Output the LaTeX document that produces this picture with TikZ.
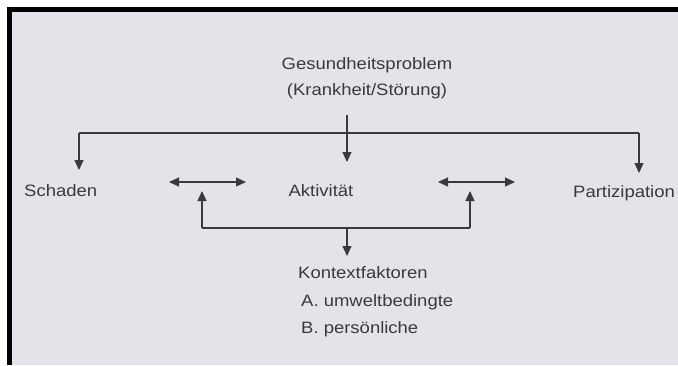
\documentclass[tikz,border=0pt]{standalone}
\usepackage{fontspec}
\setmainfont{Liberation Sans}[FakeStretch=1.12]
\usetikzlibrary{arrows.meta}
\definecolor{paper}{HTML}{E4E3E9}
\definecolor{ink}{HTML}{3A3A3E}

\begin{document}
\begin{tikzpicture}[x=1pt,y=-1pt,>={Triangle[length=10pt,width=9pt]},
  txt/.style={text=ink,font=\fontsize{16.5}{20}\selectfont,inner sep=0pt,anchor=base},
  txtleft/.style={txt,anchor=base west},
  link/.style={draw=ink,line width=1.1pt}]
  \useasboundingbox (0,0) rectangle (678,365);
  \fill[white] (0,0) rectangle (678,365);
  \fill[black] (7,7) rectangle (678,365);
  \fill[paper] (12,12) rectangle (678,365);

  % Texts
  \node[txt] (problem) at (367,69) {Gesundheitsproblem};
  \node[txt] (krankheit) at (367,95) {(Krankheit/Störung)};
  \node[txtleft] (schaden) at (24,196) {Schaden};
  \node[txt] (aktiv) at (321,196) {Aktivität};
  \node[txtleft] (partiz) at (573,197) {Partizipation};
  \node[txtleft] (kontext) at (298,278) {Kontextfaktoren};
  \node[txtleft] (umwelt) at (301,306) {A. umweltbedingte};
  \node[txtleft] (person) at (301,333) {B. persönliche};

  % Branching from the health problem
  \coordinate (stem) at (347,115);
  \coordinate (aktivin) at (347,162);
  \coordinate (hl) at (79,133);
  \coordinate (hr) at (639,133);
  \coordinate (schadenin) at (79,170);
  \coordinate (partizin) at (639,173);
  \draw[link,->] (stem) -- (aktivin);
  \draw[link] (hl) -- (hr);
  \draw[link,->] (hl) -- (schadenin);
  \draw[link,->] (hr) -- (partizin);

  % Interactions
  \coordinate (la) at (169,182);
  \coordinate (lb) at (246,182);
  \coordinate (ra) at (438,182);
  \coordinate (rb) at (515,182);
  \draw[link,<->] (la) -- (lb);
  \draw[link,<->] (ra) -- (rb);

  % Context factors
  \coordinate (bl) at (202,228);
  \coordinate (br) at (470,228);
  \coordinate (blup) at (202,191);
  \coordinate (brup) at (470,191);
  \coordinate (bm) at (347,228);
  \coordinate (kontextin) at (347,256);
  \draw[link] (bl) -- (br);
  \draw[link,->] (bl) -- (blup);
  \draw[link,->] (br) -- (brup);
  \draw[link,->] (bm) -- (kontextin);
\end{tikzpicture}
\end{document}
